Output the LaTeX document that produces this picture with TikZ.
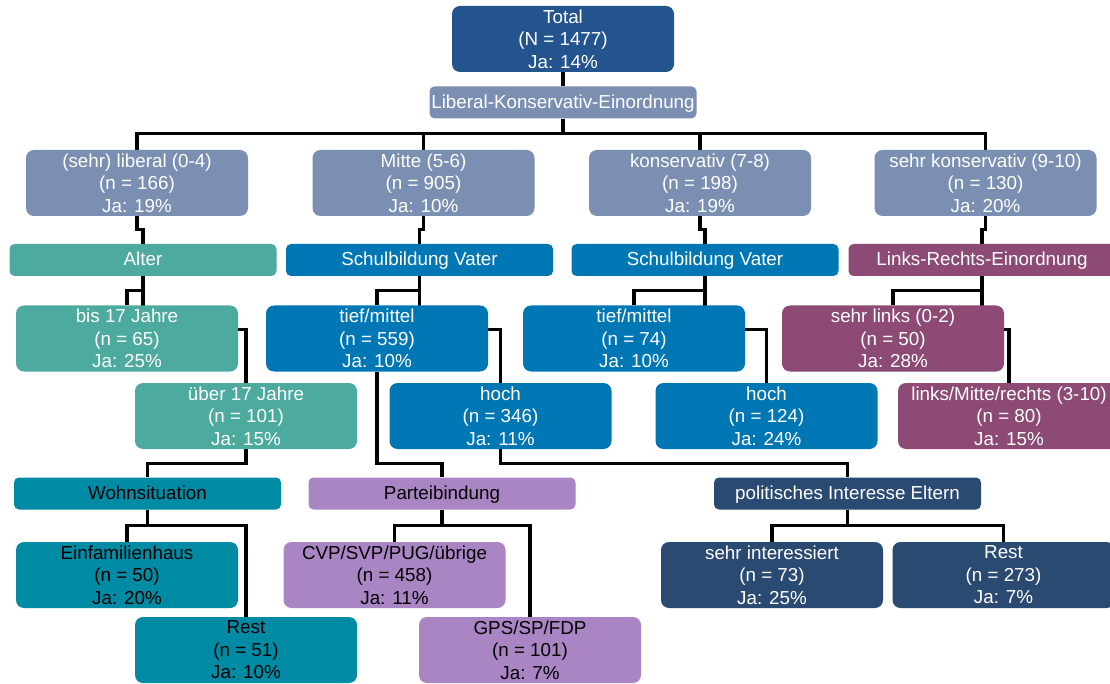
\documentclass[tikz,border=0pt]{standalone}
\usepackage{fontspec}
\setmainfont{Liberation Sans}
\usepackage{xcolor}
\usepackage{tikz}
\usetikzlibrary{positioning, backgrounds}

\definecolor{totalblue}{RGB}{36,84,142}
\definecolor{greyblue}{RGB}{122,143,178}
\definecolor{agegreen}{RGB}{77,170,158}
\definecolor{schoolblue}{RGB}{0,119,181}
\definecolor{lrpurple}{RGB}{140,74,116}
\definecolor{homecyan}{RGB}{0,139,165}
\definecolor{partylilac}{RGB}{169,133,196}
\definecolor{interestnavy}{RGB}{43,74,114}

\begin{document}
\begin{tikzpicture}[
        x=1pt, y=-1pt,
        font=\fontsize{18.8}{22.5}\selectfont,
        box/.style={rectangle, rounded corners=8pt, minimum width=222pt, minimum height=66pt, inner sep=0pt, align=center, text=white},
        split/.style={rectangle, rounded corners=5pt, minimum width=267pt, minimum height=32pt, inner sep=0pt, text height=14pt, text depth=2pt, text=white},
        conn/.style={line width=3.2pt, color=black}
    ]
    \useasboundingbox (0,0) rectangle (1110,684);

    % Root
    \node[box, fill=totalblue] (total) at (563,39) {Total\\(N = 1477)\\Ja: 14\%};
    \node[split, fill=greyblue, below=14pt of total] (lk) {Liberal-Konservativ-Einordnung};

    % Level 1
    \node[box, fill=greyblue] (lib) at (137,183) {(sehr) liberal (0-4)\\(n = 166)\\Ja: 19\%};
    \node[box, fill=greyblue] (mitte) at (423.5,183) {Mitte (5-6)\\(n = 905)\\Ja: 10\%};
    \node[box, fill=greyblue] (kons) at (700,183) {konservativ (7-8)\\(n = 198)\\Ja: 19\%};
    \node[box, fill=greyblue] (skons) at (985.5,183) {sehr konservativ (9-10)\\(n = 130)\\Ja: 20\%};

    % Split variables
    \node[split, fill=agegreen] (alter) at (143,260) {Alter};
    \node[split, fill=schoolblue] (sv1) at (419.5,260) {Schulbildung Vater};
    \node[split, fill=schoolblue] (sv2) at (705,260) {Schulbildung Vater};
    \node[split, fill=lrpurple] (lr) at (982,260) {Links-Rechts-Einordnung};

    % Level 2
    \node[box, fill=agegreen] (bis17) at (127,338.5) {bis 17 Jahre\\(n = 65)\\Ja: 25\%};
    \node[box, fill=agegreen] (ueber17) at (246,416) {über 17 Jahre\\(n = 101)\\Ja: 15\%};
    \node[box, fill=schoolblue] (tm1) at (377,338.5) {tief/mittel\\(n = 559)\\Ja: 10\%};
    \node[box, fill=schoolblue] (hoch1) at (500.5,416) {hoch\\(n = 346)\\Ja: 11\%};
    \node[box, fill=schoolblue] (tm2) at (634,338.5) {tief/mittel\\(n = 74)\\Ja: 10\%};
    \node[box, fill=schoolblue] (hoch2) at (766.5,416) {hoch\\(n = 124)\\Ja: 24\%};
    \node[box, fill=lrpurple] (sl) at (893,338.5) {sehr links (0-2)\\(n = 50)\\Ja: 28\%};
    \node[box, fill=lrpurple] (lmr) at (1009,416) {links/Mitte/rechts (3-10)\\(n = 80)\\Ja: 15\%};

    % Second split variables
    \node[split, fill=homecyan, text=black] (wohn) at (147.5,493.5) {Wohnsituation};
    \node[split, fill=partylilac, text=black] (partei) at (442,493.5) {Parteibindung};
    \node[split, fill=interestnavy] (pol) at (847.5,493.5) {politisches Interesse Eltern};

    % Level 3
    \node[box, fill=homecyan, text=black] (einf) at (127,575) {Einfamilienhaus\\(n = 50)\\Ja: 20\%};
    \node[box, fill=homecyan, text=black] (rest1) at (246,650) {Rest\\(n = 51)\\Ja: 10\%};
    \node[box, fill=partylilac, text=black] (cvp) at (394.5,575) {CVP/SVP/PUG/übrige\\(n = 458)\\Ja: 11\%};
    \node[box, fill=partylilac, text=black] (gps) at (530,650) {GPS/SP/FDP\\(n = 101)\\Ja: 7\%};
    \node[box, fill=interestnavy] (si) at (772,575) {sehr interessiert\\(n = 73)\\Ja: 25\%};
    \node[box, fill=interestnavy] (rest2) at (1003.5,575) {Rest\\(n = 273)\\Ja: 7\%};

    % Connectors
    \begin{scope}[on background layer]
    \draw[conn] (total) -- (lk);
    \foreach \n in {lib, mitte, kons, skons}
        \draw[conn] (lk.south) -- ++(0,15) -| (\n.north);

    \draw[conn] (lib.south) -- ++(0,13) -| (alter.north);
    \draw[conn] (mitte.south) -- ++(0,13) -| (sv1.north);
    \draw[conn] (kons.south) -- ++(0,13) -| (sv2.north);
    \draw[conn] (skons.south) -- ++(0,13) -| (lr.north);

    \draw[conn] (alter.south) -- ++(0,14) -| (bis17.north);
    \draw[conn] (alter.south) |- ([yshift=9pt]bis17.east) -| (ueber17.north);
    \draw[conn] (sv1.south) -- ++(0,14) -| (tm1.north);
    \draw[conn] (sv1.south) |- ([yshift=9pt]tm1.east) -| (hoch1.north);
    \draw[conn] (sv2.south) -- ++(0,14) -| (tm2.north);
    \draw[conn] (sv2.south) |- ([yshift=9pt]tm2.east) -| (hoch2.north);
    \draw[conn] (lr.south) -- ++(0,14) -| (sl.north);
    \draw[conn] (lr.south) |- ([yshift=9pt]sl.east) -| (lmr.north);

    \draw[conn] (ueber17.south) -- ++(0,14) -| (wohn.north);
    \draw[conn] (tm1.south) |- ([yshift=14pt]partei.north) -- (partei.north);
    \draw[conn] (hoch1.south) -- ++(0,14) -| (pol.north);

    \draw[conn] (wohn.south) -- ++(0,16) -| (einf.north);
    \draw[conn] (wohn.south) -- ++(0,16) -| (rest1.north);
    \draw[conn] (partei.south) -- ++(0,16) -| (cvp.north);
    \draw[conn] (partei.south) -- ++(0,16) -| (gps.north);
    \draw[conn] (pol.south) -- ++(0,16) -| (si.north);
    \draw[conn] (pol.south) -- ++(0,16) -| (rest2.north);
    \end{scope}

\end{tikzpicture}
\end{document}
